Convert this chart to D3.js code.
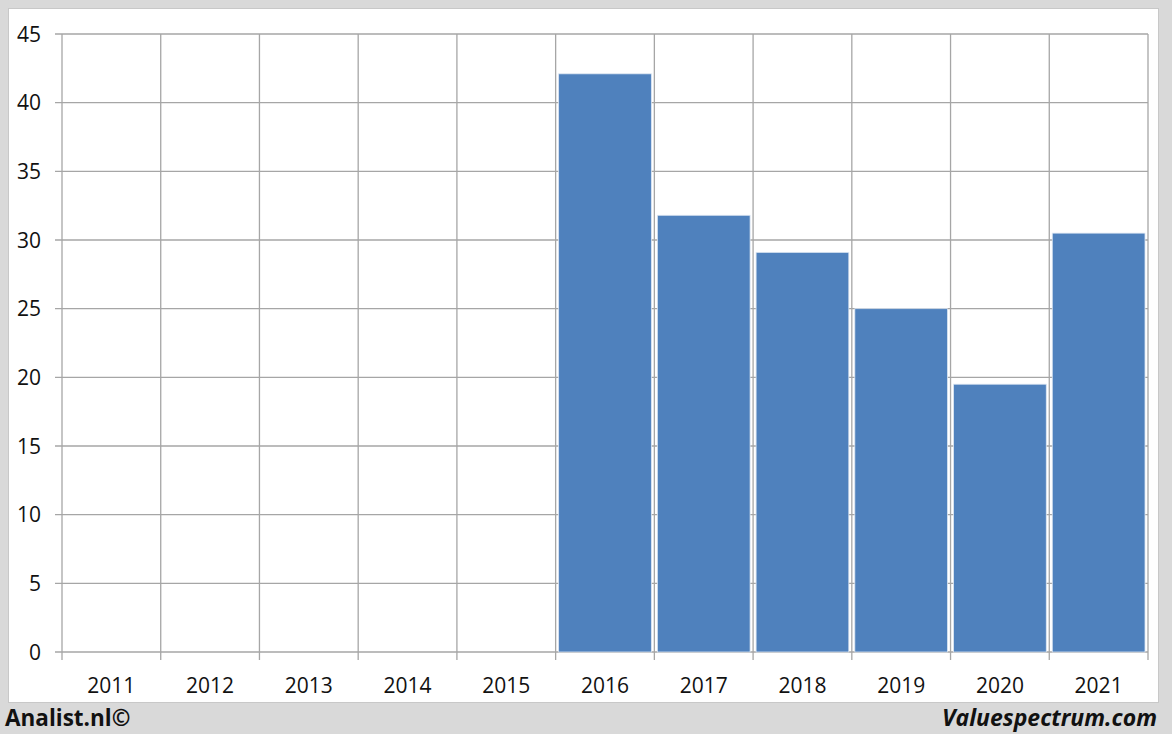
<!DOCTYPE html>
<html><head><meta charset="utf-8">
<script src="https://cdn.jsdelivr.net/npm/d3@7"></script>
<style>body{margin:0;background:#d9d9d9;}svg{display:block;}</style>
</head><body>
<svg id="c" width="1172" height="734"></svg>
<script>
const years = ["2011","2012","2013","2014","2015","2016","2017","2018","2019","2020","2021"];
const values = [null,null,null,null,null,42.1,31.8,29.1,25.0,19.5,30.5];
const yTicks = [0,5,10,15,20,25,30,35,40,45];

const svg = d3.select("#c");
const font = "'Open Sans', 'Noto Sans', sans-serif";
svg.append("rect").attr("width",1172).attr("height",734).attr("fill","#d9d9d9");
svg.append("rect").attr("x",8.5).attr("y",8.5).attr("width",1150).attr("height",694)
  .attr("fill","#fff").attr("stroke","#c8c8c8");

const L=62,R=1148,T=34,B=652;
const xb = d3.scaleBand().domain(years).range([L,R]);
const y = d3.scaleLinear().domain([0,45]).range([B,T]);

const g = svg.append("g");
g.selectAll("line.h").data(yTicks).enter().append("line")
  .attr("x1",L-7).attr("x2",R).attr("y1",d=>y(d)).attr("y2",d=>y(d))
  .attr("stroke","#a6a6a6").attr("stroke-width",1.3);
const bounds = years.map(d=>xb(d)).concat([R]);
g.selectAll("line.v").data(bounds).enter().append("line")
  .attr("x1",d=>d).attr("x2",d=>d).attr("y1",T).attr("y2",B+8)
  .attr("stroke","#a6a6a6").attr("stroke-width",1.3);

g.selectAll("rect.bar").data(years.map((d,i)=>({k:d,v:values[i]})).filter(d=>d.v!=null))
  .enter().append("rect")
  .attr("x",d=>xb(d.k)+3).attr("width",xb.bandwidth()-6)
  .attr("y",d=>y(d.v)).attr("height",d=>B-y(d.v))
  .attr("fill","#4f81bd").attr("stroke","#dce6f2").attr("stroke-width",0.8);

svg.selectAll("text.y").data(yTicks).enter().append("text")
  .attr("x",41).attr("y",d=>y(d)).attr("dy","0.36em").attr("text-anchor","end")
  .attr("font-family",font).attr("font-size",21).attr("fill","#111").text(d=>d);
svg.selectAll("text.x").data(years).enter().append("text")
  .attr("x",d=>xb(d)+xb.bandwidth()/2).attr("y",693).attr("text-anchor","middle")
  .attr("font-family",font).attr("font-size",21).attr("fill","#111").text(d=>d);

svg.append("text").attr("x",5).attr("y",726).attr("font-family",font).attr("font-weight","bold")
  .attr("font-size",22.5).attr("fill","#111").text("Analist.nl©");
svg.append("text").attr("x",1157).attr("y",726).attr("text-anchor","end").attr("font-family",font)
  .attr("font-weight","bold").attr("font-style","italic").attr("font-size",23).attr("fill","#111").text("Valuespectrum.com");
</script>
</body></html>
